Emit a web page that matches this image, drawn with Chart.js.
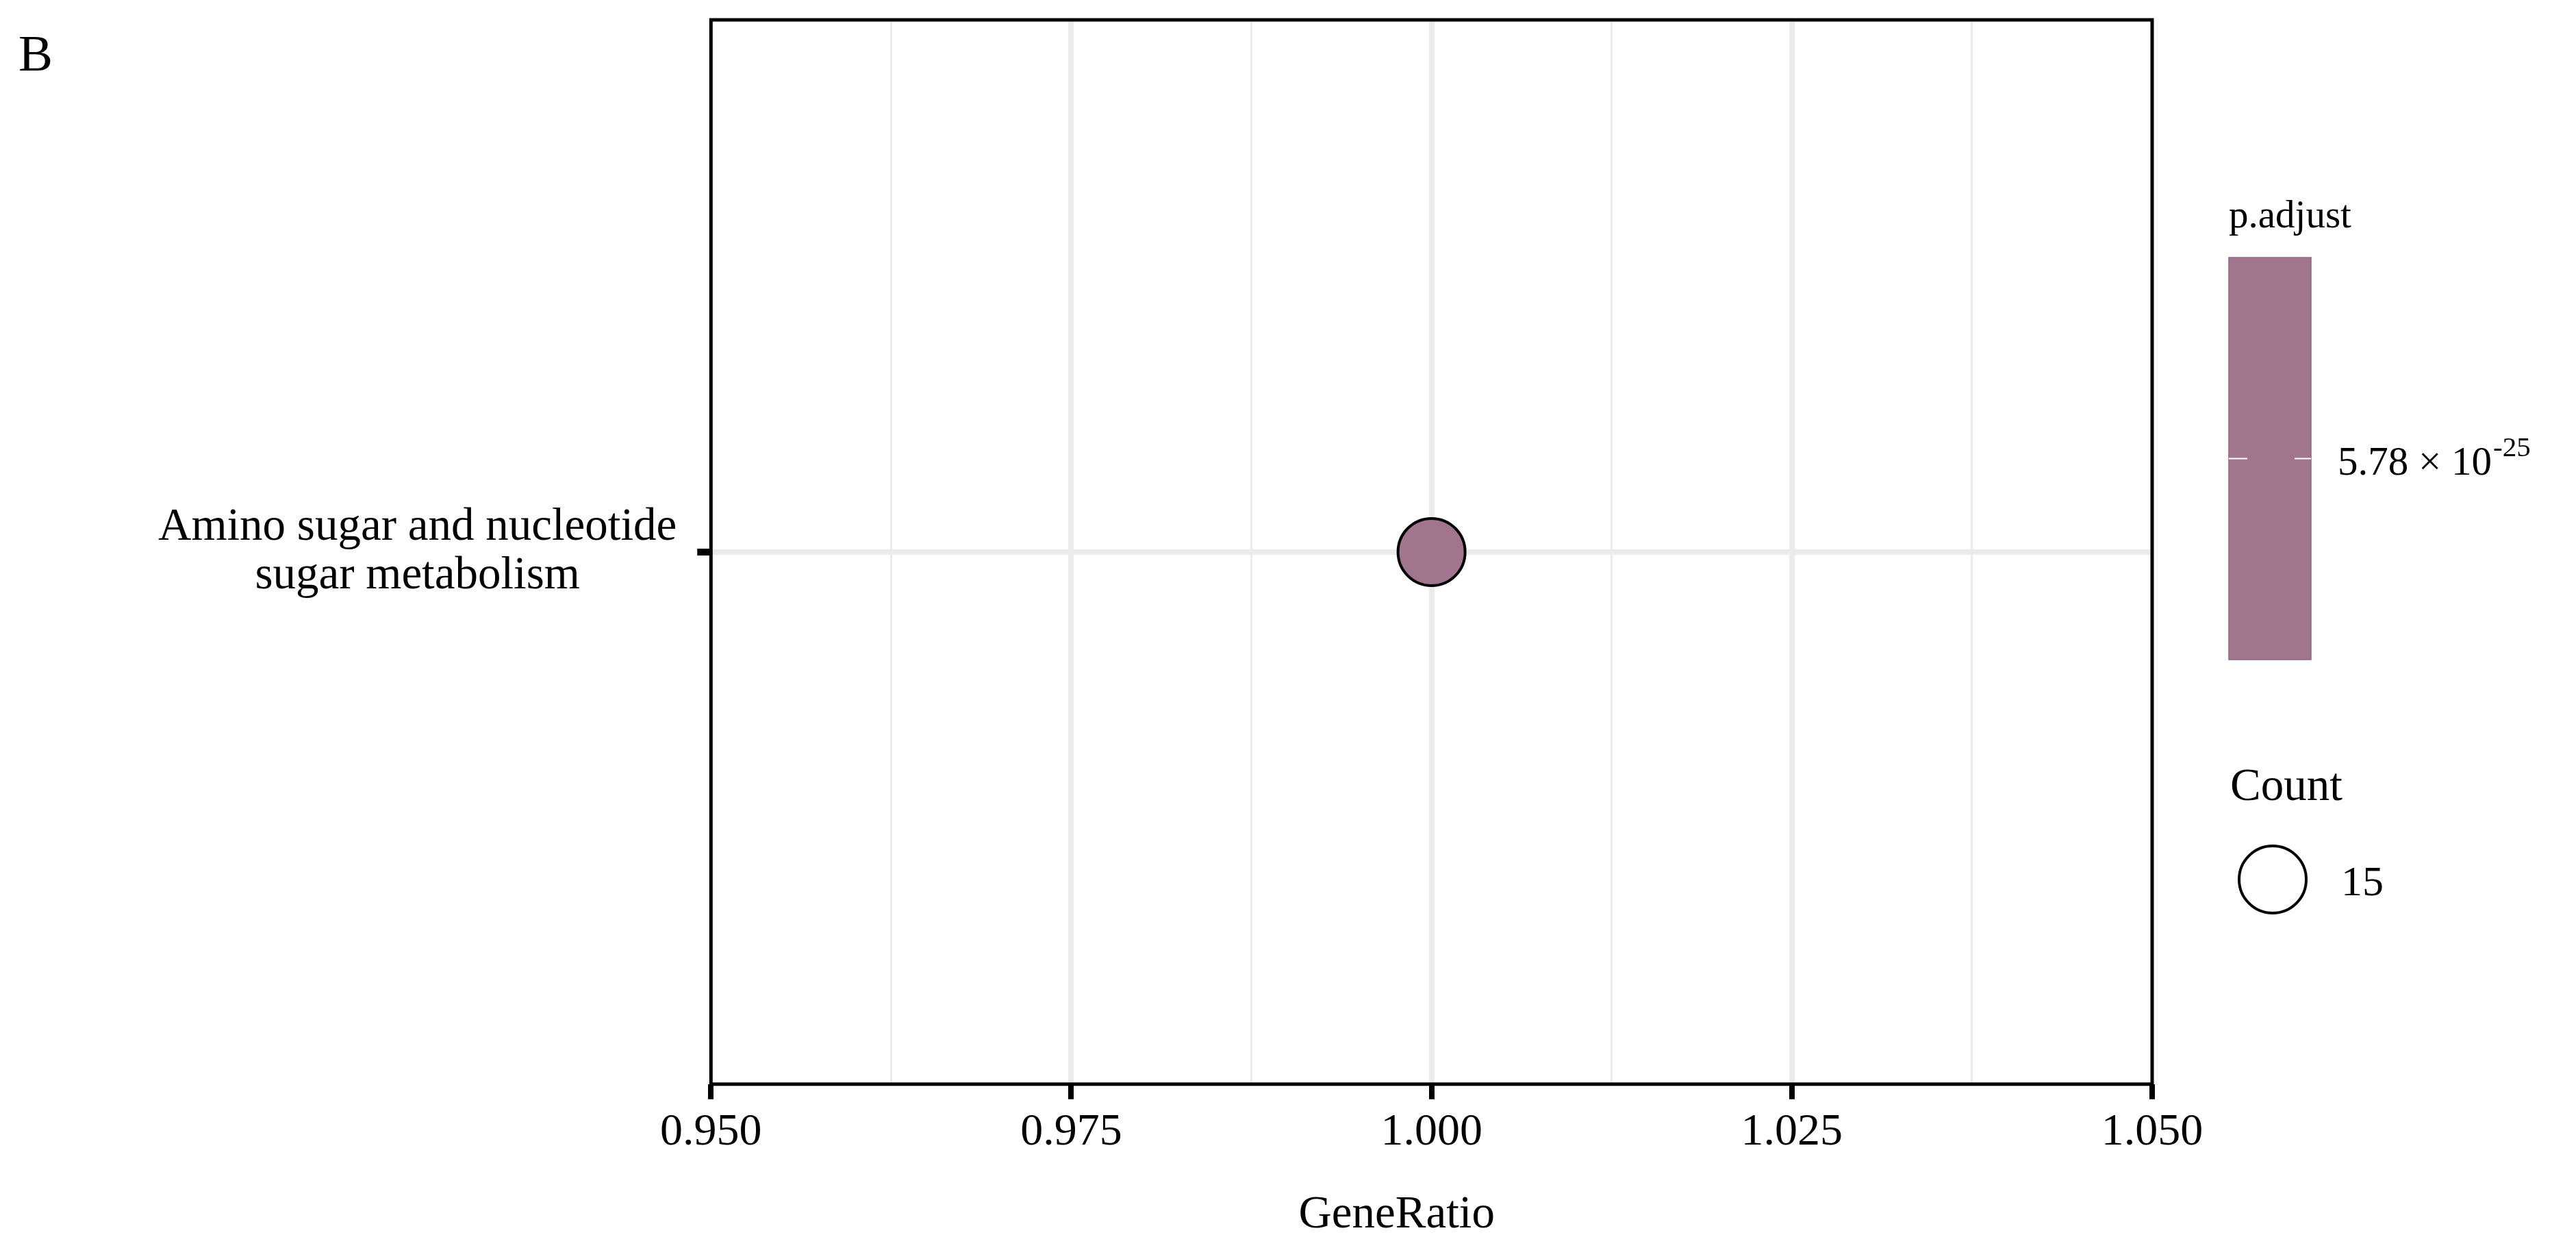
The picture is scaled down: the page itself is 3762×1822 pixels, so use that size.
<!DOCTYPE html>
<html>
<head>
<meta charset="utf-8">
<script src="https://cdn.jsdelivr.net/npm/chart.js@4.4.0/dist/chart.umd.min.js"></script>
<style>
  html, body { margin: 0; padding: 0; background: #fff; }
  #wrap { width: 3762px; height: 1822px; }
</style>
</head>
<body>
<div id="wrap"><canvas id="dot" width="3762" height="1822"></canvas></div>
<script>
// KEGG enrichment dot plot, panel B

const pathways = ['Amino sugar and nucleotide sugar metabolism'];
const geneRatio = [1.0];
const counts = [15];
const pAdjust = [5.78e-25];

const xMajorTicks = [0.950, 0.975, 1.000, 1.025, 1.050];
const xMinorTicks = [0.9625, 0.9875, 1.0125, 1.0375];

const FONT = 'Liberation Serif';
const DOT_COLOR = '#a1758d';
const GRID = '#ebebeb';

// size scale: biggest count gets the biggest dot
const maxCount = Math.max(...counts);
const sizeFor = c => 49 * Math.sqrt(c / maxCount);

// Helper: wrap long pathway names like str_wrap
function wrap(str, width) {
  const lines = [];
  let cur = '';
  str.split(' ').forEach(w => {
    if (cur && (cur + ' ' + w).length > width) { lines.push(cur); cur = w; }
    else cur = cur ? cur + ' ' + w : w;
  });
  if (cur) lines.push(cur);
  return lines;
}

const isMajor = v => xMajorTicks.some(t => Math.abs(t - v) < 1e-9);
const isEdge = v => Math.abs(v - xMajorTicks[0]) < 1e-9 || Math.abs(v - xMajorTicks[xMajorTicks.length - 1]) < 1e-9;

// frame, x title, panel tag and the two legends
const extras = {
  id: 'extras',
  afterDraw(chart) {
    const { ctx, chartArea: a } = chart;
    ctx.save();

    ctx.strokeStyle = '#000';
    ctx.lineWidth = 5;
    ctx.strokeRect(a.left, a.top, a.right - a.left, a.bottom - a.top);

    ctx.fillStyle = '#000';
    ctx.textBaseline = 'alphabetic';
    ctx.font = `75px "${FONT}"`;
    ctx.fillText('B', 27, 103);

    ctx.font = `67px "${FONT}"`;
    ctx.textAlign = 'center';
    ctx.fillText('GeneRatio', (a.left + a.right) / 2 - 51, 1792);
    ctx.textAlign = 'left';

    // p.adjust colour bar
    const barL = a.right + 112, barT = 376, barW = 120, barH = 587;
    ctx.font = `57px "${FONT}"`;
    ctx.fillText('p.adjust', barL, 332);
    ctx.fillStyle = DOT_COLOR;
    ctx.fillRect(barL, barT, barW, barH);
    ctx.strokeStyle = '#8f6580';
    ctx.lineWidth = 1.5;
    ctx.strokeRect(barL, barT, barW, barH);
    const midY = barT + barH / 2;
    ctx.strokeStyle = '#fff';
    ctx.lineWidth = 2;
    ctx.beginPath();
    ctx.moveTo(barL, midY); ctx.lineTo(barL + 27, midY);
    ctx.moveTo(barL + barW - 24, midY); ctx.lineTo(barL + barW, midY);
    ctx.stroke();

    const [mant, exp] = pAdjust[0].toExponential(2).split('e');
    const base = `${mant} \u00d7 10`;
    ctx.fillStyle = '#000';
    ctx.font = `59px "${FONT}"`;
    ctx.fillText(base, barL + barW + 39, midY + 23);
    const w = ctx.measureText(base).width;
    ctx.font = `41px "${FONT}"`;
    ctx.fillText(String(+exp), barL + barW + 41 + w, midY - 4);

    // Count size legend
    ctx.font = `67px "${FONT}"`;
    ctx.fillText('Count', barL + 2, 1168);
    ctx.beginPath();
    ctx.arc(barL + 64, 1284, sizeFor(counts[0]), 0, Math.PI * 2);
    ctx.lineWidth = 4;
    ctx.strokeStyle = '#000';
    ctx.stroke();
    ctx.font = `62px "${FONT}"`;
    ctx.fillText(String(counts[0]), barL + 164, 1307);

    ctx.restore();
  }
};

new Chart(document.getElementById('dot'), {
  type: 'bubble',
  data: {
    datasets: [{
      data: pathways.map((p, i) => ({ x: geneRatio[i], y: p, r: sizeFor(counts[i]) })),
      backgroundColor: DOT_COLOR,
      borderColor: '#000',
      borderWidth: 4
    }]
  },
  options: {
    responsive: false,
    animation: false,
    devicePixelRatio: 1,
    layout: { autoPadding: false, padding: { left: 201, top: 29, right: 619, bottom: 0 } },
    plugins: { legend: { display: false }, tooltip: { enabled: false } },
    scales: {
      x: {
        type: 'linear',
        min: xMajorTicks[0],
        max: xMajorTicks[xMajorTicks.length - 1],
        afterBuildTicks: s => {
          s.ticks = [...xMajorTicks, ...xMinorTicks].sort((p, q) => p - q).map(v => ({ value: v }));
        },
        afterFit: s => { s.height += 120; },
        ticks: {
          callback: v => isMajor(v) ? v.toFixed(3) : '',
          autoSkip: false,
          maxRotation: 0,
          padding: 9,
          color: '#000',
          font: { family: FONT, size: 66 }
        },
        grid: {
          color: c => isEdge(c.tick.value) ? 'rgba(0,0,0,0)' : GRID,
          lineWidth: c => isMajor(c.tick.value) ? 8 : 3,
          tickColor: c => isMajor(c.tick.value) ? '#000' : 'rgba(0,0,0,0)',
          tickWidth: 8,
          tickLength: 22
        },
        border: { display: false }
      },
      y: {
        type: 'category',
        labels: pathways,
        offset: true,
        // the wrapped label should not push the panel down
        afterFit: s => { s.paddingTop = 0; s.paddingBottom = 0; },
        ticks: {
          callback(v) { return wrap(this.getLabelForValue(v), 30); },
          crossAlign: 'center',
          padding: 30,
          color: '#000',
          font: { family: FONT, size: 67, lineHeight: 1.05 }
        },
        grid: { color: GRID, lineWidth: 8, tickColor: '#000', tickWidth: 10, tickLength: 20 },
        border: { display: false }
      }
    }
  },
  plugins: [extras]
});
</script>
</body>
</html>
